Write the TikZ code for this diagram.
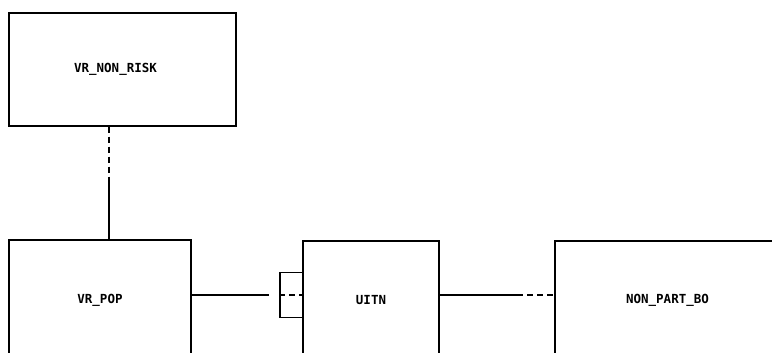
\documentclass[tikz,border=0pt]{standalone}
\usepackage{fontspec}
\newfontfamily\plotfont{DejaVu Sans Mono}

\begin{document}
\begin{tikzpicture}[x=1pt, y=-1pt]
    % Define styles
    \tikzstyle{entity} = [rectangle, draw=black, line width=1.4pt, inner sep=0pt, align=center, font=\plotfont\bfseries\fontsize{12.5}{14}\selectfont]
    \tikzstyle{port} = [rectangle, draw=black, line width=1.6pt, inner sep=0pt]
    \tikzstyle{link} = [line width=1.4pt]
    \tikzstyle{optlink} = [line width=1.4pt, dash pattern=on 6pt off 4pt]

    \useasboundingbox (0, 0) rectangle (772, 353);
    \clip (0, 0) rectangle (772, 353);

    % Entities
    \node[entity, minimum width=227pt, minimum height=113pt,
          label={[xshift=-7pt, font=\plotfont\bfseries\fontsize{12.5}{14}\selectfont]center:VR\_NON\_RISK}]
          (nonrisk) at (122.5, 69.5) {};
    \node[entity, minimum width=182pt, minimum height=120pt] (vrpop) at (100, 300) {VR\_POP};
    \node[entity, minimum width=136pt, minimum height=118pt] (uitn) at (371, 300) {UITN};
    \node[entity, minimum width=225pt, minimum height=118pt] (nonpart) at (667.5, 300) {NON\_PART\_BO};

    % Small box on the left side of UITN
    \node[port, minimum width=23pt, minimum height=45pt] (uitnport) at (291.5, 295) {};

    % Connectors
    \coordinate (riskbend) at (109, 182);
    \coordinate (partbend) at (517, 295);
    \draw[optlink] (nonrisk.south -| riskbend) -- (riskbend);
    \draw[link] (riskbend) -- (riskbend |- vrpop.north);

    \draw[link] (vrpop.east |- uitnport) -- ([xshift=-10pt]uitnport.west);
    \draw[optlink] (uitnport.west) -- (uitnport.east);

    \draw[link] (uitn.east |- partbend) -- (partbend);
    \draw[optlink] (partbend) -- (nonpart.west |- partbend);

\end{tikzpicture}
\end{document}
